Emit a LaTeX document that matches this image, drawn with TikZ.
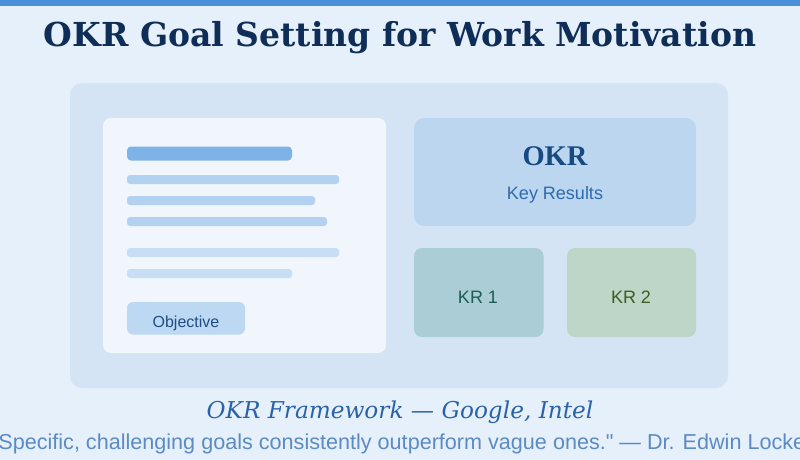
\documentclass[tikz,border=0pt]{standalone}
\usepackage{fontspec}
\setmainfont{DejaVu Serif}
\setsansfont{Liberation Sans}
\newfontfamily\okrserif{Liberation Serif}
\newfontfamily\quotefont{Liberation Sans}[Ligatures=TeXOff]
\definecolor{bgc}{HTML}{E6F0FA}
\definecolor{topbar}{HTML}{4A90D9}
\definecolor{titlec}{HTML}{0F2E57}
\definecolor{panelc}{HTML}{D4E4F4}
\definecolor{cardc}{HTML}{F0F6FC}
\definecolor{barA}{HTML}{7EB3E8}
\definecolor{barB}{HTML}{B3D2F2}
\definecolor{barC}{HTML}{C8DEF5}
\definecolor{objbox}{HTML}{BDD8F2}
\definecolor{objtext}{HTML}{1F4E85}
\definecolor{okrbox}{HTML}{BCD6F0}
\definecolor{okrtext}{HTML}{174A80}
\definecolor{krtext}{HTML}{2E6AAE}
\definecolor{kroneb}{HTML}{ABCDD5}
\definecolor{kronet}{HTML}{1D5C55}
\definecolor{krtwob}{HTML}{BDD6C8}
\definecolor{krtwot}{HTML}{3B5E1E}
\definecolor{footc}{HTML}{2A62A8}
\definecolor{quotec}{HTML}{5B8BC2}
\tikzset{
  lbl/.style={anchor=base, inner sep=0pt, outer sep=0pt},
  sanslbl/.style={lbl, font=\sffamily\fontsize{18}{22}\selectfont},
}
\begin{document}
\begin{tikzpicture}[x=1pt,y=-1pt]
\useasboundingbox (0,0) rectangle (800,460);
\clip (0,0) rectangle (800,460);
\fill[bgc] (0,0) rectangle (800,460);
\fill[topbar] (0,0) rectangle (800,6);
\node[lbl, text=titlec, font=\bfseries\fontsize{33}{40}\selectfont] (title) at (400,47) {OKR Goal Setting for Work Motivation};
% main panel
\fill[panelc, rounded corners=12pt] (70,83) rectangle (728,388);
% left card
\fill[cardc, rounded corners=8pt] (103,118) rectangle (386,353);
\fill[barA, rounded corners=4pt] (127,146.5) rectangle (292,160.5);
\fill[barB, rounded corners=3pt] (127,175) rectangle (339,184);
\fill[barB, rounded corners=3pt] (127,196) rectangle (315,205);
\fill[barB, rounded corners=3pt] (127,217) rectangle (327,226);
\fill[barC, rounded corners=3pt] (127,248) rectangle (339,257);
\fill[barC, rounded corners=3pt] (127,269) rectangle (292,278);
\fill[objbox, rounded corners=6pt] (127,302) rectangle (245,334.5);
\node[lbl, text=objtext, font=\sffamily\fontsize{16}{19}\selectfont] (objective) at (186,327.5) {Objective};
% OKR box
\fill[okrbox, rounded corners=10pt] (414,118) rectangle (696,226);
\node[lbl, text=okrtext, font=\okrserif\bfseries\fontsize{28.5}{34}\selectfont] (okr) at (555,165) {OKR};
\node[sanslbl, text=krtext] (keyres) at (555,199) {Key Results};
% KR boxes
\fill[kroneb, rounded corners=8pt] (414,248) rectangle (543.5,337);
\node[sanslbl, text=kronet] (krone) at (478,303.5) {KR 1};
\fill[krtwob, rounded corners=8pt] (567,248) rectangle (696,337);
\node[sanslbl, text=krtwot] (krtwo) at (631,303.5) {KR 2};
% footer
\node[lbl, text=footc, font=\itshape\fontsize{23.2}{28}\selectfont] (framework) at (400,418) {OKR Framework — Google, Intel};
\node[lbl, text=quotec, font=\quotefont\fontsize{21.6}{25}\selectfont] (quote) at (398,449.5) {"Specific, challenging goals consistently outperform vague ones." — Dr. Edwin Locke};
\end{tikzpicture}
\end{document}
